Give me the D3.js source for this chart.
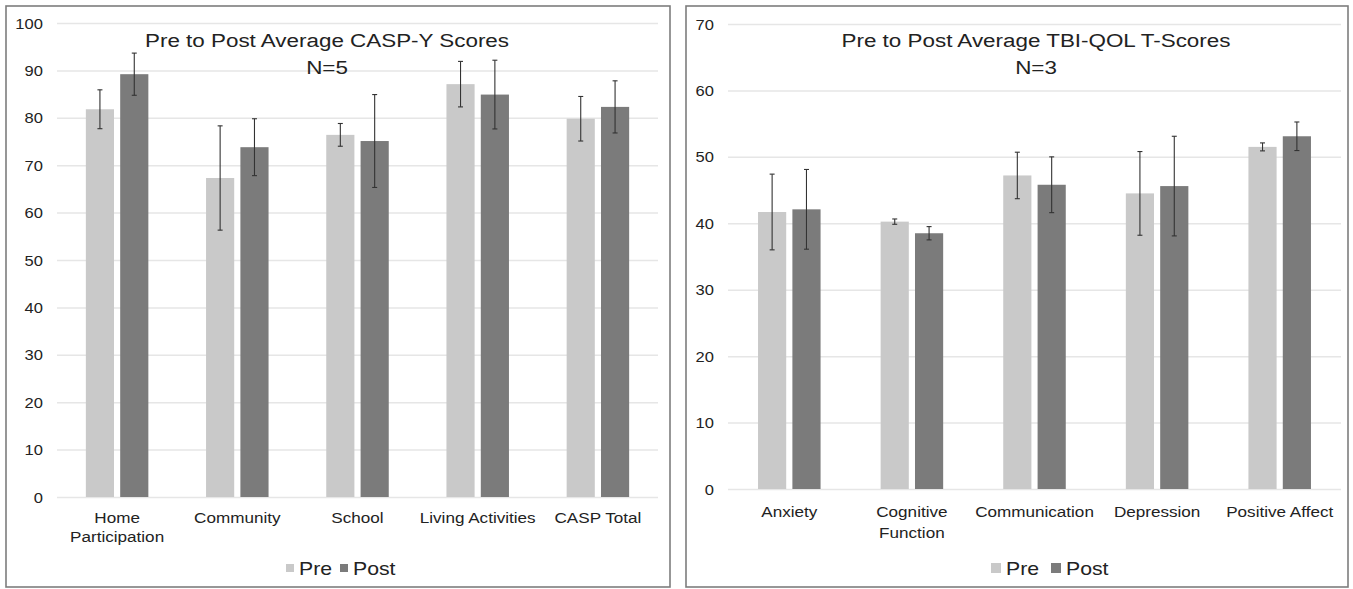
<!DOCTYPE html>
<html>
<head>
<meta charset="utf-8">
<script src="https://cdn.jsdelivr.net/npm/d3@7"></script>
<style>
  html, body { margin: 0; padding: 0; background: #ffffff; }
  svg { display: block; }
  text { font-family: "Liberation Sans", Arial, sans-serif; fill: #222; }
</style>
</head>
<body>
<svg id="chart" width="1353" height="589"></svg>
<script>
// ---------- data ----------
const seriesNames = ["Pre", "Post"];

const caspTitle = ["Pre to Post Average CASP-Y Scores", "N=5"];
const caspCategories = ["Home\nParticipation", "Community", "School", "Living Activities", "CASP Total"];
const caspPre = [81.8, 67.3, 76.4, 87.1, 79.8];
const caspPost = [89.2, 73.8, 75.1, 84.9, 82.3];
const caspPreErr = [4.1, 11.0, 2.4, 4.8, 4.7];
const caspPostErr = [4.45, 6.0, 9.8, 7.25, 5.5];
const caspTicks = [0, 10, 20, 30, 40, 50, 60, 70, 80, 90, 100];

const tbiTitle = ["Pre to Post Average TBI-QOL T-Scores", "N=3"];
const tbiCategories = ["Anxiety", "Cognitive\nFunction", "Communication", "Depression", "Positive Affect"];
const tbiPre = [41.7, 40.25, 47.2, 44.5, 51.5];
const tbiPost = [42.1, 38.5, 45.8, 45.6, 53.1];
const tbiPreErr = [5.7, 0.4, 3.5, 6.3, 0.6];
const tbiPostErr = [6.0, 1.0, 4.2, 7.5, 2.15];
const tbiTicks = [0, 10, 20, 30, 40, 50, 60, 70];

// ---------- style ----------
const colors = { Pre: "#c9c9c9", Post: "#7b7b7b" };
const STRETCH = 1.18;
const svg = d3.select("#chart");

function stretchedText(parent, x, y, str, size, anchor) {
  return parent.append("text")
    .attr("transform", `translate(${x},${y}) scale(${STRETCH},1)`)
    .attr("text-anchor", anchor || "middle")
    .style("font-size", size + "px")
    .text(str);
}

function drawPanel(cfg) {
  const g = svg.append("g");

  // frame
  g.append("rect")
    .attr("x", cfg.frame[0]).attr("y", cfg.frame[1])
    .attr("width", cfg.frame[2] - cfg.frame[0]).attr("height", cfg.frame[3] - cfg.frame[1])
    .attr("fill", "#fff").attr("stroke", "#7d7d7d").attr("stroke-width", 1.6);

  const y = d3.scaleLinear().domain([0, cfg.ticks[cfg.ticks.length - 1]]).range([cfg.yBottom, cfg.yTop]);
  const x0 = d3.scaleBand().domain(cfg.categories).range([cfg.xLeft, cfg.xRight])
    .paddingInner(cfg.groupPad).paddingOuter(cfg.groupPad / 2);
  const x1 = d3.scaleBand().domain(seriesNames).range([0, x0.bandwidth()]).paddingInner(0.18);

  // grid + y axis
  const ax = g.append("g")
    .attr("transform", `translate(${cfg.xLeft},0)`)
    .call(d3.axisLeft(y).tickValues(cfg.ticks).tickSize(-(cfg.xRight - cfg.xLeft)).tickFormat(d3.format("d")));
  ax.select(".domain").remove();
  ax.selectAll(".tick line").attr("stroke", "#e6e6e6").attr("stroke-width", 1.5);
  ax.selectAll(".tick text")
    .attr("x", -12).attr("dy", "0.36em")
    .attr("transform", `scale(${STRETCH},1)`)
    .style("font-size", "14px").style("fill", "#222")
    .style("font-family", '"Liberation Sans", Arial, sans-serif');

  // bars
  const rows = cfg.categories.map((c, i) => ({
    cat: c,
    vals: [
      { s: "Pre", v: cfg.pre[i], e: cfg.preErr[i] },
      { s: "Post", v: cfg.post[i], e: cfg.postErr[i] }
    ]
  }));

  const grp = g.selectAll("g.grp").data(rows).enter().append("g")
    .attr("class", "grp")
    .attr("transform", d => `translate(${x0(d.cat)},0)`);

  grp.selectAll("rect").data(d => d.vals).enter().append("rect")
    .attr("x", d => x1(d.s))
    .attr("y", d => y(d.v))
    .attr("width", x1.bandwidth())
    .attr("height", d => y(0) - y(d.v))
    .attr("fill", d => colors[d.s]);

  // error bars
  const eb = grp.selectAll("g.err").data(d => d.vals).enter().append("g").attr("class", "err")
    .attr("stroke", "#333").attr("stroke-width", 1.1);
  eb.append("line")
    .attr("x1", d => x1(d.s) + x1.bandwidth() / 2).attr("x2", d => x1(d.s) + x1.bandwidth() / 2)
    .attr("y1", d => y(d.v + d.e)).attr("y2", d => y(d.v - d.e));
  eb.append("line")
    .attr("x1", d => x1(d.s) + x1.bandwidth() / 2 - 2.5).attr("x2", d => x1(d.s) + x1.bandwidth() / 2 + 2.5)
    .attr("y1", d => y(d.v + d.e)).attr("y2", d => y(d.v + d.e));
  eb.append("line")
    .attr("x1", d => x1(d.s) + x1.bandwidth() / 2 - 2.5).attr("x2", d => x1(d.s) + x1.bandwidth() / 2 + 2.5)
    .attr("y1", d => y(d.v - d.e)).attr("y2", d => y(d.v - d.e));

  // category labels
  cfg.categories.forEach(c => {
    const cx = x0(c) + x0.bandwidth() / 2;
    c.split("\n").forEach((line, k) => {
      stretchedText(g, cx, cfg.catY + k * cfg.catLine, line, 14.5, "middle");
    });
  });

  // title
  stretchedText(g, cfg.titleX, cfg.titleY, cfg.title[0], 19, "middle");
  stretchedText(g, cfg.titleX, cfg.titleY + 27, cfg.title[1], 19, "middle");

  // legend
  seriesNames.forEach((s, i) => {
    const lx = cfg.legendX[i];
    g.append("rect").attr("x", lx).attr("y", cfg.legendY - 4).attr("width", cfg.legendSq).attr("height", cfg.legendSq)
      .attr("transform", `translate(0,${-cfg.legendSq / 2 + 4})`)
      .attr("fill", colors[s]);
    stretchedText(g, lx + cfg.legendSq + 5, cfg.legendY + 6.5, s, 18, "start");
  });
}

drawPanel({
  frame: [6, 6, 670, 587],
  categories: caspCategories, pre: caspPre, post: caspPost, preErr: caspPreErr, postErr: caspPostErr,
  ticks: caspTicks, title: caspTitle,
  xLeft: 57, xRight: 658, yTop: 23, yBottom: 497, groupPad: 0.48,
  catY: 523, catLine: 19,
  titleX: 327, titleY: 47,
  legendX: [286, 340], legendY: 568, legendSq: 8
});

drawPanel({
  frame: [686, 6, 1348, 587],
  categories: tbiCategories, pre: tbiPre, post: tbiPost, preErr: tbiPreErr, postErr: tbiPostErr,
  ticks: tbiTicks, title: tbiTitle,
  xLeft: 728, xRight: 1341, yTop: 24, yBottom: 489, groupPad: 0.49,
  catY: 517, catLine: 21,
  titleX: 1036, titleY: 47,
  legendX: [991, 1051], legendY: 568, legendSq: 10
});
</script>
</body>
</html>
